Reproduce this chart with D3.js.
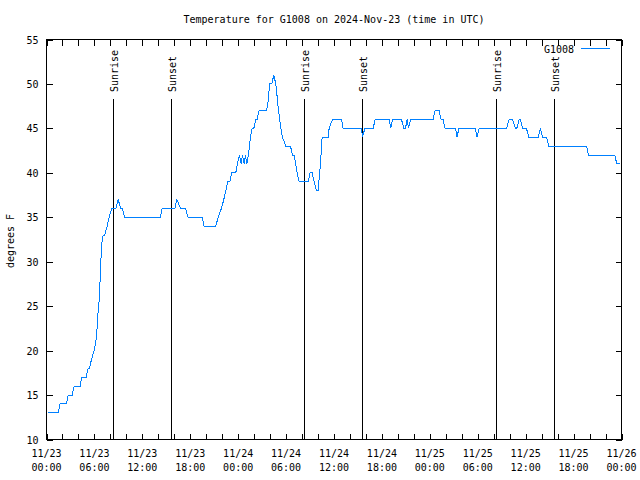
<!DOCTYPE html>
<html>
<head>
<meta charset="utf-8">
<script src="https://cdn.jsdelivr.net/npm/d3@7"></script>
<style>
  html, body { margin: 0; padding: 0; background: #fff; }
  svg { display: block; }
  text { font-family: "DejaVu Sans Mono", "Liberation Mono", monospace; font-size: 10px; fill: #000; }
</style>
</head>
<body>
<svg id="chart" width="640" height="480"></svg>
<script>
// ---- data (hours since 2024-11-23 00:00 UTC, temperature in °F) ----
const title = "Temperature for G1008 on 2024-Nov-23 (time in UTC)";
const seriesName = "G1008";
const yLabel = "degrees F";
const hours = [
  0.15, 1.45, 1.70, 2.50, 2.71, 3.21, 3.46, 4.21, 4.42, 4.96,
  5.21, 5.38, 5.63, 5.96, 6.17, 6.30, 6.42, 6.55, 6.67, 6.80,
  6.92, 7.09, 7.30, 7.59, 7.84, 8.18, 8.68, 8.97, 9.30, 9.51,
  9.77, 14.27, 14.48, 16.07, 16.32, 16.78, 17.40, 17.73, 19.49, 19.74,
  21.20, 21.49, 21.91, 22.20, 22.45, 22.70, 22.95, 23.20, 23.70, 23.90,
  24.16, 24.37, 24.54, 24.75, 24.92, 25.08, 25.29, 25.42, 25.54, 25.75,
  25.96, 26.21, 26.37, 26.62, 27.55, 27.75, 27.84, 27.96, 28.21, 28.46,
  28.71, 28.84, 28.92, 29.05, 29.21, 29.34, 29.55, 29.96, 30.55, 30.80,
  31.00, 31.20, 31.38, 31.63, 32.76, 33.00, 33.26, 33.51, 33.81, 34.01,
  34.30, 34.51, 35.27, 35.39, 35.81, 36.94, 37.14, 39.44, 39.57, 39.86,
  40.90, 41.15, 42.90, 43.11, 43.33, 44.45, 44.74, 44.95, 45.16, 45.33,
  45.58, 48.41, 48.66, 49.16, 49.41, 49.66, 49.91, 51.21, 51.41, 51.63,
  53.67, 53.92, 54.17, 57.60, 57.93, 58.35, 58.73, 58.89, 59.18, 59.35,
  59.60, 60.10, 60.39, 61.56, 61.86, 62.11, 62.61, 62.90, 67.62, 67.87,
  71.16, 71.41, 71.79
];
const temps = [
  13, 13, 14, 14, 15, 15, 16, 16, 17, 17,
  18, 18, 19, 20, 21, 22, 24, 25, 27, 30,
  32, 33, 33, 34, 35, 36, 36, 37, 36, 36,
  35, 35, 36, 36, 37, 36, 36, 35, 35, 34,
  34, 35, 36, 37, 38, 39, 39, 40, 40, 41,
  42, 41, 42, 41, 42, 41, 42, 43, 44, 45,
  45, 46, 46, 47, 47, 48, 49, 50, 50, 51,
  50, 49, 48, 47, 46, 45, 44, 43, 43, 42,
  42, 41, 40, 39, 39, 40, 40, 39, 38, 38,
  41, 44, 44, 45, 46, 46, 45, 45, 44, 45,
  45, 46, 46, 45, 46, 46, 45, 45, 46, 45,
  46, 46, 47, 47, 46, 46, 45, 45, 44, 45,
  45, 44, 45, 45, 46, 46, 45, 45, 46, 46,
  45, 45, 44, 44, 45, 44, 44, 43, 43, 42,
  42, 41, 41
];
const sunEventNames = ["Sunrise", "Sunset", "Sunrise", "Sunset", "Sunrise", "Sunset"];
const sunEventHours = [8.34, 15.65, 32.30, 39.52, 56.30, 63.56];
const xTickHours = [0, 6, 12, 18, 24, 30, 36, 42, 48, 54, 60, 66, 72];
const xTickDates = ["11/23", "11/23", "11/23", "11/23", "11/24", "11/24", "11/24", "11/24", "11/25", "11/25", "11/25", "11/25", "11/26"];
const xTickTimes = ["00:00", "06:00", "12:00", "18:00", "00:00", "06:00", "12:00", "18:00", "00:00", "06:00", "12:00", "18:00", "00:00"];
const yTicks = [10, 15, 20, 25, 30, 35, 40, 45, 50, 55];

// ---- layout ----
const L = 46.5, R = 621.5, T = 39.5, B = 439.5;
const lineColor = "#0080ff";
const svg = d3.select("#chart");

const x = d3.scaleLinear().domain([0, 72]).range([L, R]);
const y = d3.scaleLinear().domain([10, 55]).range([B, T]);

// minor ticks every 2 hours
const minorHours = d3.range(0, 73, 2);

const axB = d3.axisBottom(x).tickValues(minorHours).tickSize(-6).tickFormat("");
const axT = d3.axisTop(x).tickValues(minorHours).tickSize(-6).tickFormat("");
const axL = d3.axisLeft(y).tickValues(yTicks).tickSize(-6).tickFormat("");
const axR = d3.axisRight(y).tickValues(yTicks).tickSize(-6).tickFormat("");

function styleAxis(g) {
  g.select(".domain").remove();
  g.selectAll("line").attr("stroke", "#000").attr("shape-rendering", "crispEdges");
}
svg.append("g").attr("transform", `translate(0,${B})`).call(axB).call(styleAxis);
svg.append("g").attr("transform", `translate(0,${T})`).call(axT).call(styleAxis);
svg.append("g").attr("transform", `translate(${L},0)`).call(axL).call(styleAxis);
svg.append("g").attr("transform", `translate(${R},0)`).call(axR).call(styleAxis);

// y tick labels
svg.append("g").selectAll("text").data(yTicks).join("text")
  .attr("x", L - 8).attr("y", d => y(d) + 4)
  .attr("text-anchor", "end").text(d => d);

// x tick labels (two lines)
const xl = svg.append("g").selectAll("g").data(xTickHours).join("g");
xl.append("text").attr("x", d => x(d)).attr("y", 457).attr("text-anchor", "middle")
  .text((d, i) => xTickDates[i]);
xl.append("text").attr("x", d => x(d)).attr("y", 471).attr("text-anchor", "middle")
  .text((d, i) => xTickTimes[i]);

// plot border
svg.append("rect").attr("x", L).attr("y", T).attr("width", R - L).attr("height", B - T)
  .attr("fill", "none").attr("stroke", "#000").attr("shape-rendering", "crispEdges");

// sunrise / sunset lines
const sg = svg.append("g").selectAll("g").data(sunEventHours).join("g");
sg.append("line")
  .attr("x1", d => Math.round(x(d)) + 0.5).attr("x2", d => Math.round(x(d)) + 0.5)
  .attr("y1", 99).attr("y2", B)
  .attr("stroke", "#000").attr("shape-rendering", "crispEdges");
sg.append("text")
  .attr("transform", d => `translate(${Math.round(x(d)) + 5},92) rotate(-90)`)
  .attr("text-anchor", "start")
  .text((d, i) => sunEventNames[i]);

// data line
const pts = hours.map((h, i) => [h, temps[i]]);
svg.append("path").datum(pts)
  .attr("fill", "none").attr("stroke", lineColor).attr("stroke-width", 1)
  .attr("shape-rendering", "crispEdges")
  .attr("d", d3.line().x(d => x(d[0])).y(d => y(d[1])));

// legend
svg.append("text").attr("x", 574).attr("y", 53).attr("text-anchor", "end").text(seriesName);
svg.append("line").attr("x1", 581).attr("x2", 610).attr("y1", 48.5).attr("y2", 48.5)
  .attr("stroke", lineColor).attr("shape-rendering", "crispEdges");

// title
svg.append("text").attr("x", (L + R) / 2).attr("y", 23).attr("text-anchor", "middle").text(title);

// y label
svg.append("text").attr("transform", "translate(14,241) rotate(-90)")
  .attr("text-anchor", "middle").text(yLabel);
</script>
</body>
</html>
